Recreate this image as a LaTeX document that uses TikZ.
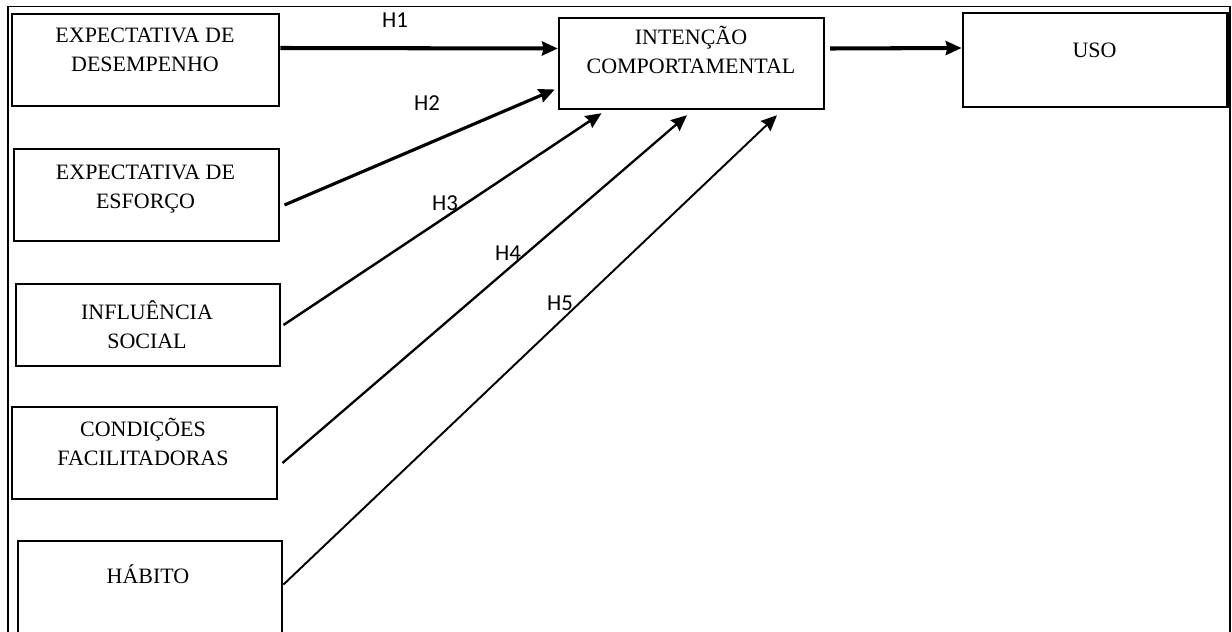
\documentclass[tikz,border=0pt]{standalone}
\usepackage{fontspec}
\setmainfont{Liberation Serif}
\newfontfamily\rotulofont{Carlito}
\usetikzlibrary{arrows.meta,fit}

\begin{document}
\begin{tikzpicture}[x=0.02cm,y=-0.02cm,
  caixa/.style={draw,line width=1.7pt,inner sep=0pt},
  texto/.style={anchor=north,align=center,inner sep=0pt,font=\fontsize{12.5}{16.5}\selectfont},
  rotulo/.style={inner sep=0pt,font=\rotulofont\fontsize{13}{15}\selectfont},
  seta/.style={-{Stealth[length=9pt,width=8pt,inset=1pt]}}]
\useasboundingbox (0,0) rectangle (1232,632);
\clip (0,0) rectangle (1232,632);
% moldura
\draw[line width=1.1pt] (8,640) -- (8,6.5) -- (1230,6.5) -- (1230,640);
% construtos
\node[caixa,fit={(12,14) (279,106)}] (desemp) {};
\node[caixa,fit={(14,149) (279,241)}] (esforco) {};
\node[caixa,fit={(16,284) (280,366)}] (influencia) {};
\node[caixa,fit={(12,407) (277,499)}] (condicoes) {};
\node[caixa,fit={(18,541) (282,650)}] (habito) {};
\node[caixa,line width=1.4pt,fit={(559,18) (824,109)}] (intencao) {};
\node[caixa,fit={(963,13) (1227,107)}] (uso) {};
\node[texto] (desempTxt) at (145,22) {\strut EXPECTATIVA DE\\\strut DESEMPENHO};
\node[texto] (esforcoTxt) at (145.5,159) {\strut EXPECTATIVA DE\\\strut ESFORÇO};
\node[texto] (influenciaTxt) at (147,299) {\strut INFLUÊNCIA\\\strut SOCIAL};
\node[texto] (condicoesTxt) at (143,416) {\strut CONDIÇÕES\\\strut FACILITADORAS};
\node[texto] (habitoTxt) at (148,563) {\strut HÁBITO};
\node[texto] (intencaoTxt) at (691,24) {\strut INTENÇÃO\\\strut COMPORTAMENTAL};
\node[texto] (usoTxt) at (1094.5,37) {\strut USO};
% hipoteses
\draw[seta,line width=2.3pt] ([shift={(0,-12)}]desemp.east) -- ([shift={(0,-15)}]intencao.west);
\draw[seta,line width=2.3pt] ([shift={(5,-15)}]intencao.east) -- ([shift={(0,-12)}]uso.west);
\draw[seta,line width=1.8pt] ([shift={(4,10)}]esforco.east) -- ([shift={(-3,26)}]intencao.west);
\draw[seta,line width=1.4pt] ([shift={(2,0)}]influencia.east) -- ([shift={(-90,3)}]intencao.south);
\draw[seta,line width=1.3pt] ([shift={(4,10)}]condicoes.east) -- ([shift={(-4.5,5)}]intencao.south);
\draw[seta,line width=1.1pt] ([shift={(0,-11)}]habito.east) -- ([shift={(85.5,5)}]intencao.south);
\node[rotulo] (h1) at (395,20) {H1};
\node[rotulo] (h2) at (427,103) {H2};
\node[rotulo] (h3) at (445,203) {H3};
\node[rotulo] (h4) at (508,253) {H4};
\node[rotulo] (h5) at (560,303) {H5};
\end{tikzpicture}
\end{document}
